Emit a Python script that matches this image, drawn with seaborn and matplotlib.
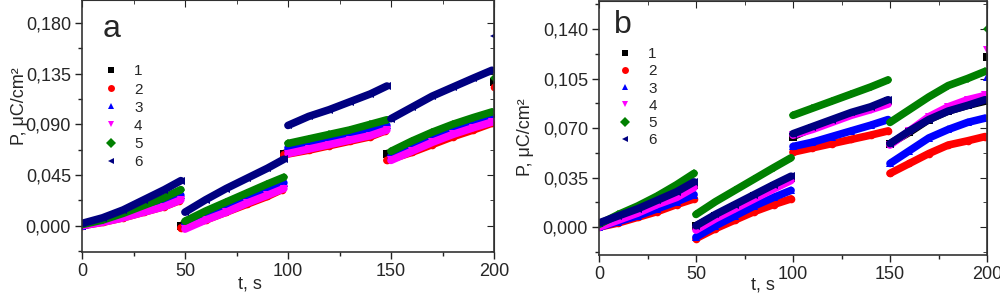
import pandas as pd
import seaborn as sns
import matplotlib
matplotlib.use("Agg")
import matplotlib.pyplot as plt
from matplotlib.lines import Line2D
from matplotlib.ticker import MultipleLocator

# time points (4 poling segments of ~50 s)
T_A = [0, 10, 20, 30, 40, 48, 50, 60, 70, 80, 90, 98,
       100, 110, 120, 130, 140, 148, 150, 160, 170, 180, 190, 199]
T_A12 = [0, 10, 20, 30, 40, 47, 48, 60, 70, 80, 90, 97,
         98, 110, 120, 130, 140, 147, 148, 160, 170, 180, 190, 199]
T_B = [0, 10, 20, 30, 40, 49, 50, 60, 70, 80, 90, 99,
       100, 110, 120, 130, 140, 149, 150, 160, 170, 180, 190, 199]

# panel a, P in uC/cm2
A1 = [0.000, 0.004, 0.009, 0.014, 0.020, 0.026, 0.000, 0.009, 0.016, 0.024, 0.031, 0.037,
      0.064, 0.071, 0.076, 0.080, 0.084, 0.088, 0.064, 0.069, 0.077, 0.084, 0.090, 0.096]
A2 = [0.000, 0.003, 0.007, 0.012, 0.017, 0.022, -0.002, 0.005, 0.012, 0.019, 0.026, 0.032,
      0.063, 0.067, 0.071, 0.075, 0.079, 0.084, 0.058, 0.065, 0.072, 0.079, 0.085, 0.091]
A3 = [0.000, 0.004, 0.009, 0.015, 0.021, 0.027, 0.001, 0.009, 0.017, 0.025, 0.032, 0.038,
      0.069, 0.073, 0.077, 0.081, 0.085, 0.089, 0.062, 0.071, 0.079, 0.086, 0.092, 0.097]
A4 = [0.000, 0.003, 0.007, 0.012, 0.017, 0.023, -0.003, 0.005, 0.012, 0.020, 0.027, 0.033,
      0.064, 0.068, 0.072, 0.076, 0.080, 0.085, 0.058, 0.066, 0.074, 0.081, 0.087, 0.092]
A5 = [0.001, 0.005, 0.011, 0.018, 0.025, 0.032, 0.004, 0.013, 0.021, 0.029, 0.037, 0.043,
      0.073, 0.077, 0.081, 0.085, 0.090, 0.094, 0.066, 0.075, 0.083, 0.090, 0.096, 0.101]
A6 = [0.002, 0.007, 0.014, 0.023, 0.032, 0.040, 0.012, 0.023, 0.033, 0.042, 0.051, 0.059,
      0.089, 0.097, 0.103, 0.110, 0.117, 0.124, 0.095, 0.105, 0.115, 0.123, 0.131, 0.138]
A_END = [0.128, 0.123, None, None, 0.131, 0.168]   # lone points at t = 200

# panel b
B1 = [0.002, 0.007, 0.012, 0.018, 0.024, 0.030, 0.001, 0.008, 0.015, 0.022, 0.029, 0.035,
      0.064, 0.070, 0.075, 0.080, 0.084, 0.089, 0.059, 0.067, 0.076, 0.082, 0.086, 0.089]
B2 = [0.000, 0.003, 0.007, 0.011, 0.016, 0.020, -0.008, -0.001, 0.005, 0.011, 0.016, 0.020,
      0.053, 0.056, 0.059, 0.062, 0.065, 0.068, 0.038, 0.045, 0.052, 0.058, 0.061, 0.064]
B3 = [0.000, 0.004, 0.008, 0.013, 0.018, 0.023, -0.007, 0.001, 0.008, 0.015, 0.021, 0.026,
      0.057, 0.060, 0.064, 0.068, 0.072, 0.076, 0.045, 0.054, 0.063, 0.069, 0.074, 0.077]
B4 = [0.000, 0.005, 0.010, 0.016, 0.021, 0.028, -0.002, 0.006, 0.013, 0.020, 0.027, 0.033,
      0.065, 0.069, 0.074, 0.079, 0.083, 0.087, 0.058, 0.068, 0.078, 0.085, 0.090, 0.093]
B5 = [0.002, 0.009, 0.015, 0.022, 0.030, 0.038, 0.009, 0.018, 0.026, 0.034, 0.042, 0.049,
      0.079, 0.084, 0.089, 0.094, 0.099, 0.104, 0.074, 0.083, 0.092, 0.100, 0.105, 0.110]
B6 = [0.003, 0.008, 0.013, 0.019, 0.025, 0.032, 0.001, 0.009, 0.016, 0.023, 0.030, 0.036,
      0.066, 0.071, 0.076, 0.081, 0.085, 0.090, 0.059, 0.068, 0.076, 0.082, 0.086, 0.090]
B_END = [0.120, None, 0.106, 0.125, 0.140, None]

LABELS = ["1", "2", "3", "4", "5", "6"]
COLORS = ["#000000", "#ff0000", "#0000ff", "#ff00ff", "#008000", "#000080"]
MARKERS = ["s", "o", "^", "v", "D", "<"]

YT_A = [0.0, 0.045, 0.090, 0.135, 0.180]
YT_B = [0.0, 0.035, 0.070, 0.105, 0.140]
XT = [0, 50, 100, 150, 200]


def frame(times, vals, end):
    rows = [(t, v, i // 6) for i, (t, v) in enumerate(zip(times, vals))]
    if end is not None:
        rows.append((200, end, 4))
    return pd.DataFrame(rows, columns=["t", "P", "seg"])


def panel(ax, times, series, ends, yticks, ylim, letter, letter_xy, leg_anchor, leg_space):
    for i, vals in enumerate(series):
        df = frame(times[i], vals, ends[i])
        ms = 4.5 if MARKERS[i] == "D" else 5.5
        sns.lineplot(data=df, x="t", y="P", units="seg", estimator=None, ax=ax,
                     color=COLORS[i], marker=MARKERS[i], markersize=ms,
                     markeredgewidth=0, linewidth=5.5, solid_capstyle="round",
                     legend=False)
    ax.set_xlim(0, 200)
    ax.set_ylim(*ylim)
    ax.set_xticks(XT)
    ax.set_xticklabels([str(x) for x in XT])
    ax.set_yticks(yticks)
    ax.set_yticklabels([f"{v:.3f}".replace(".", ",") for v in yticks])
    ax.xaxis.set_minor_locator(MultipleLocator(25))
    ax.yaxis.set_minor_locator(MultipleLocator(yticks[1] / 2))
    ax.tick_params(which="both", direction="out", labelsize=13, pad=3,
                   color="#222222")
    ax.tick_params(which="major", length=5, width=1)
    ax.tick_params(which="minor", length=3, width=1)
    for sp in ax.spines.values():
        sp.set_visible(True)
        sp.set_linewidth(1.2)
        sp.set_color("#333333")

    # mirror ticks pointing inwards on top / right
    top = ax.secondary_xaxis("top")
    top.set_xticks(XT)
    top.xaxis.set_minor_locator(MultipleLocator(25))
    top.tick_params(which="both", direction="in", labeltop=False, color="#222222")
    top.tick_params(which="major", length=5)
    top.tick_params(which="minor", length=3)
    right = ax.secondary_yaxis("right")
    right.set_yticks(yticks)
    right.yaxis.set_minor_locator(MultipleLocator(yticks[1] / 2))
    right.tick_params(which="both", direction="in", labelright=False, color="#222222")
    right.tick_params(which="major", length=5)
    right.tick_params(which="minor", length=3)

    ax.set_xlabel("t, s", fontsize=13)
    ax.set_ylabel("P, μC/cm²", fontsize=13)
    ax.text(letter_xy[0], letter_xy[1], letter, transform=ax.transAxes,
            fontsize=23, ha="left", va="baseline")

    handles = [Line2D([], [], linestyle="none", marker=m, color=c, markersize=5,
                      markeredgewidth=0) for m, c in zip(MARKERS, COLORS)]
    ax.legend(handles, LABELS, loc="upper left", bbox_to_anchor=leg_anchor,
              frameon=False, fontsize=11, handlelength=1.0, handletextpad=1.0,
              labelspacing=leg_space, borderaxespad=0, borderpad=0)


def main():
    sns.set_style("ticks")
    plt.rcParams["font.family"] = ["Liberation Sans", "DejaVu Sans"]

    fig = plt.figure(figsize=(10, 3.01), dpi=100)
    ax_a = fig.add_axes([0.082, 0.163, 0.412, 0.836])
    ax_b = fig.add_axes([0.599, 0.153, 0.388, 0.844])

    panel(ax_a, [T_A12, T_A12, T_A, T_A, T_A, T_A], [A1, A2, A3, A4, A5, A6], A_END,
          YT_A, (-0.0233, 0.2001), "a", (0.05, 0.855), (0.052, 0.745), 0.27)
    panel(ax_b, [T_B] * 6, [B1, B2, B3, B4, B5, B6], B_END,
          YT_B, (-0.0196, 0.1598), "b", (0.038, 0.874), (0.048, 0.818), 0.21)

    ax_a.xaxis.set_label_coords(0.408, -0.095)
    ax_a.yaxis.set_label_coords(-0.13, 0.58)
    ax_b.xaxis.set_label_coords(0.423, -0.085)
    ax_b.yaxis.set_label_coords(-0.168, 0.465)

    plt.savefig("out.png", dpi=100)


if __name__ == "__main__":
    main()
